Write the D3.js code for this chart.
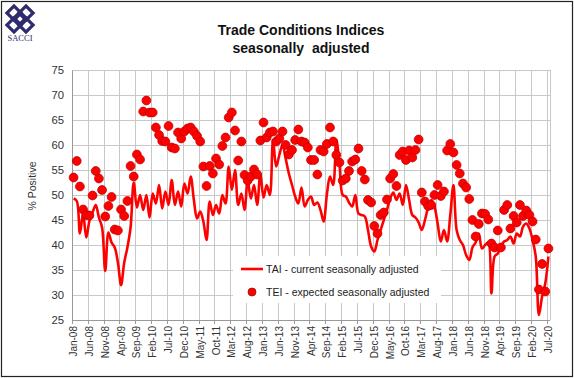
<!DOCTYPE html>
<html>
<head>
<meta charset="utf-8">
<script src="https://cdn.jsdelivr.net/npm/d3@7"></script>
<style>
  html, body { margin: 0; padding: 0; background: #fff; }
  svg { display: block; font-family: Arial, "Liberation Sans", sans-serif; }
</style>
</head>
<body>
<svg id="chart" width="574" height="378"></svg>
<script>
// Monthly categories Jan-08 .. Jul-20
const months = d3.timeMonths(new Date(2008, 0, 1), new Date(2020, 7, 1)).map(d3.timeFormat("%b-%y"));

const tickLabels = ["Jan-08","Jun-08","Nov-08","Apr-09","Sep-09","Feb-10","Jul-10","Dec-10","May-11","Oct-11",
  "Mar-12","Aug-12","Jan-13","Jun-13","Nov-13","Apr-14","Sep-14","Feb-15","Jul-15","Dec-15","May-16","Oct-16",
  "Mar-17","Aug-17","Jan-18","Jun-18","Nov-18","Apr-19","Sep-19","Feb-20","Jul-20"];

const yTicks = [25, 30, 35, 40, 45, 50, 55, 60, 65, 70, 75];

// TAI - current seasonally adjusted
const tai = [
  49.3, 48.8, 42.3, 46.3, 41.5, 44.8, 46.5, 48.0, 45.5, 43.5, 34.8, 42.5,
  40.5, 39.5, 36.5, 32.0, 36.5, 39.5, 43.5, 52.5, 47.5, 50.0, 47.0, 50.0,
  45.5, 50.3, 48.3, 52.0, 47.3, 50.7, 48.0, 53.0, 48.0, 50.7, 47.7, 52.3,
  50.3, 53.7, 49.0, 45.3, 46.7, 44.7, 41.0, 48.7, 46.0, 48.0, 46.3, 50.0,
  48.3, 55.7, 51.0, 55.0, 48.0, 50.3, 47.0, 53.0, 49.3, 52.0, 48.0, 54.3,
  49.5, 52.0, 50.0, 61.0, 55.7, 58.0, 60.0, 57.3, 54.3, 52.0, 49.7, 48.3,
  51.5, 47.7, 49.0, 49.7, 48.0, 48.5, 47.0, 44.7, 50.0, 53.7, 52.0, 61.0,
  56.3, 50.0, 49.7, 48.5, 47.7, 50.0, 46.3, 46.0, 45.7, 43.0, 39.7, 38.7,
  41.0, 43.0, 45.0, 47.0, 49.3, 50.5, 49.0, 50.3, 48.0, 52.0, 49.0, 46.0,
  45.5, 44.5, 43.0, 45.0, 47.5, 49.0, 47.7, 44.3, 40.7, 43.0, 40.7, 46.0,
  52.0, 43.0, 41.0, 40.0, 38.0, 37.0, 39.5, 40.5, 42.3, 39.3, 40.0, 40.5,
  30.3, 37.7, 38.3, 39.7, 40.7, 41.0, 41.7, 40.3, 42.3, 41.7, 43.7, 44.3,
  43.3, 41.0, 37.7, 26.0, 29.7, 32.3, 37.7
];

// TEI - expected seasonally adjusted
const tei = [
  53.5, 56.8, 51.7, 47.1, 46.0, 45.9, 49.9, 54.8, 53.3, 51.0, 45.7, 47.8,
  49.6, 43.1, 42.9, 47.1, 45.8, 48.8, 55.8, 53.7, 58.1, 57.1, 66.7, 68.9,
  66.5, 66.5, 63.5, 62.0, 60.8, 60.7, 63.8, 59.5, 59.3, 62.5, 61.3, 62.7,
  63.3, 63.5, 62.7, 61.8, 60.7, 55.7, 51.8, 55.8, 54.3, 57.3, 56.1, 59.8,
  61.5, 65.5, 66.5, 62.9, 56.9, 60.7, 54.0, 52.9, 53.7, 55.1, 54.1, 60.9,
  64.5, 61.5, 62.5, 62.7, 60.7, 61.3, 62.7, 60.0, 58.1, 59.0, 61.0, 63.1,
  60.7, 60.5, 59.5, 57.0, 57.0, 54.1, 59.0, 58.7, 60.2, 63.5, 60.7, 58.0,
  56.5, 52.9, 53.3, 54.8, 56.7, 57.1, 59.3, 54.8, 53.1, 49.0, 48.5, 43.8,
  42.3, 46.0, 46.5, 49.1, 53.3, 54.2, 51.8, 58.0, 58.7, 57.0, 58.9, 57.5,
  59.0, 61.1, 50.5, 48.7, 47.8, 48.0, 50.0, 52.0, 49.8, 50.7, 58.9, 60.2,
  58.5, 56.0, 54.3, 52.3, 51.5, 49.2, 45.0, 41.7, 44.2, 46.3, 46.2, 45.1,
  40.3, 39.5, 42.9, 39.5, 47.0, 48.0, 43.3, 45.8, 44.5, 48.0, 45.8, 46.9,
  46.0, 44.7, 41.1, 31.1, 36.2, 30.7, 39.3
];

const svg = d3.select("#chart");
const red = "#ff0000";
const plot = { left: 72, right: 550, top: 70, bottom: 320 };

// frame around the whole graphic
svg.append("rect").attr("x", 1.5).attr("y", 1.5).attr("width", 571).attr("height", 375)
  .attr("fill", "#fff").attr("stroke", "#222").attr("stroke-width", 1.2);

const x = d3.scaleBand().domain(months).range([plot.left, plot.right]).padding(0);
const y = d3.scaleLinear().domain([25, 75]).range([plot.bottom, plot.top]);
const cx = m => x(m) + x.bandwidth() / 2;

// gridlines
const grid = svg.append("g").attr("stroke", "#c8c8c8").attr("stroke-width", 1);
grid.selectAll("line.h").data(yTicks).join("line")
  .attr("x1", plot.left).attr("x2", plot.right)
  .attr("y1", d => Math.round(y(d)) + 0.5).attr("y2", d => Math.round(y(d)) + 0.5);
const vIdx = d3.range(5, months.length, 5);
grid.selectAll("line.v").data(vIdx).join("line")
  .attr("y1", plot.top).attr("y2", plot.bottom)
  .attr("x1", i => Math.round(x(months[i])) + 0.5).attr("x2", i => Math.round(x(months[i])) + 0.5);
grid.append("line").attr("x1", plot.right + 0.5).attr("x2", plot.right + 0.5)
  .attr("y1", plot.top).attr("y2", plot.bottom);

// axes
const yAxis = d3.axisLeft(y).tickValues(yTicks).tickSize(0).tickPadding(8);
const gy = svg.append("g").attr("transform", `translate(${plot.left},0)`).call(yAxis);
gy.select(".domain").attr("stroke", "#999");
gy.selectAll("text").attr("font-size", "11.3px").attr("fill", "#333").attr("font-family", "Arial, 'Liberation Sans', sans-serif");

const gx = svg.append("g").attr("transform", `translate(0,${plot.bottom})`);
gx.append("line").attr("x1", plot.left).attr("x2", plot.right).attr("y1", 0.5).attr("y2", 0.5).attr("stroke", "#999");
gx.selectAll("line.tk").data(d3.range(0, months.length + 1, 5)).join("line")
  .attr("x1", i => Math.round(i < months.length ? x(months[i]) : plot.right) + 0.5)
  .attr("x2", i => Math.round(i < months.length ? x(months[i]) : plot.right) + 0.5)
  .attr("y1", 0).attr("y2", 4).attr("stroke", "#999");
gx.selectAll("text").data(tickLabels).join("text")
  .attr("transform", d => `translate(${cx(d)},6) rotate(-90)`)
  .attr("text-anchor", "end").attr("dy", "0.35em")
  .attr("font-size", "10px").attr("fill", "#333")
  .text(d => d);

// axis title
svg.append("text").attr("transform", "translate(36,186) rotate(-90)")
  .attr("text-anchor", "middle").attr("font-size", "10.5px").attr("fill", "#333")
  .text("% Positive");

// title
svg.append("text").attr("x", 301).attr("y", 35).attr("text-anchor", "middle")
  .attr("font-size", "14px").attr("font-weight", "bold").attr("fill", "#111")
  .text("Trade Conditions Indices");
svg.append("text").attr("x", 301).attr("y", 53).attr("text-anchor", "middle")
  .attr("font-size", "14px").attr("font-weight", "bold").attr("fill", "#111")
  .attr("xml:space", "preserve").style("white-space", "pre")
  .text("seasonally  adjusted");

// TAI line
const line = d3.line().x((d, i) => cx(months[i])).y(d => y(d)).curve(d3.curveCatmullRom.alpha(0.5));
svg.append("path").datum(tai).attr("d", line)
  .attr("fill", "none").attr("stroke", red).attr("stroke-width", 2.6).attr("stroke-linejoin", "round");

// TEI dots
svg.append("g").selectAll("circle").data(tei).join("circle")
  .attr("cx", (d, i) => cx(months[i])).attr("cy", d => y(d)).attr("r", 4.4)
  .attr("fill", red).attr("stroke", "#c00000").attr("stroke-width", 0.8);

// legend
const lg = svg.append("g");
lg.append("rect").attr("x", 233).attr("y", 256).attr("width", 208).attr("height", 47).attr("fill", "#fff");
lg.append("line").attr("x1", 241).attr("x2", 263).attr("y1", 269).attr("y2", 269)
  .attr("stroke", red).attr("stroke-width", 2.6);
lg.append("text").attr("x", 266).attr("y", 269).attr("dy", "0.35em").attr("font-size", "10.5px").attr("fill", "#222")
  .text("TAI - current seasonally adjusted");
lg.append("circle").attr("cx", 252).attr("cy", 292).attr("r", 4).attr("fill", red).attr("stroke", "#c00000").attr("stroke-width", 0.8);
lg.append("text").attr("x", 266).attr("y", 292).attr("dy", "0.35em").attr("font-size", "10.5px").attr("fill", "#222")
  .text("TEI - expected seasonally adjusted");

// SACCI logo mark
const logo = svg.append("g").attr("transform", "translate(6,5)");
const navy = "#2f2b6e";
[[8, 8], [20, 8], [8, 20], [20, 20], [14, 14]].forEach(([px, py]) => {
  logo.append("rect").attr("x", -5).attr("y", -5).attr("width", 10).attr("height", 10)
    .attr("transform", `translate(${px},${py}) rotate(45)`)
    .attr("fill", "none").attr("stroke", navy).attr("stroke-width", 3.2);
});
logo.append("text").attr("x", 14).attr("y", 36).attr("text-anchor", "middle")
  .attr("font-family", "'Liberation Serif', 'DejaVu Serif', serif").attr("font-size", "8.5px").attr("fill", navy)
  .text("SACCI");
</script>
</body>
</html>
